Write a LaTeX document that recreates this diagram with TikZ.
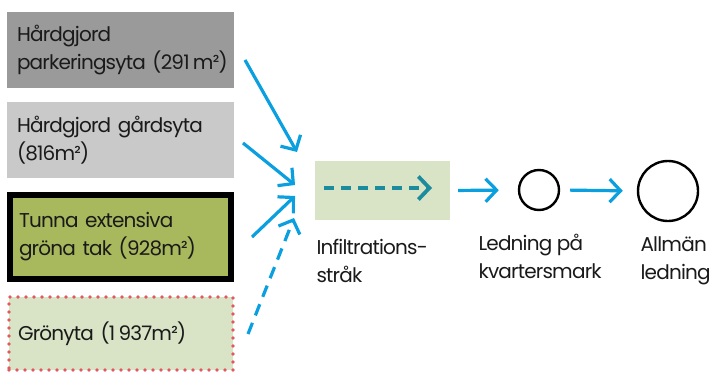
\documentclass[tikz,border=0pt]{standalone}
\usepackage{fontspec}
\setmainfont{Poppins}[LetterSpace=-4.0]
\usetikzlibrary{arrows.meta, positioning}
\definecolor{flowblue}{HTML}{0AA0E0}
\definecolor{flowteal}{HTML}{1A8C9E}
\definecolor{parkgrey}{HTML}{9A9A9A}
\definecolor{yardgrey}{HTML}{C9C9C9}
\definecolor{roofgreen}{HTML}{A8B85C}
\definecolor{palegreen}{HTML}{D9E3C5}
\definecolor{dotred}{HTML}{E2585E}
\definecolor{inktext}{HTML}{1A1A1A}
\tikzset{
x=1pt, y=-1pt, % one unit is one pixel of the sketch
every node/.style={text=inktext, font=\fontsize{20}{28}\selectfont},
srcbox/.style={rectangle, minimum width=227, minimum height=76, inner xsep=10pt, text width=207pt, align=left}, % the four surfaces on the left
flow/.style={flowblue, line width=3.2pt, -{Straight Barb[length=11pt, width=23pt]}}, % blue runoff arrows
well/.style={circle, draw=black, line width=2.4pt, inner sep=0pt}, % pipes
lbl/.style={anchor=north west, align=left},
}

\begin{document}
\begin{tikzpicture}
\useasboundingbox (0,0) rectangle (711,372);

% surfaces
\node[srcbox, fill=parkgrey] at (120.5,50) (park) {Hårdgjord\\\mbox{parkeringsyta (291\,m²)}};
\node[srcbox, fill=yardgrey] at (120.5,140) (yard) {Hårdgjord gårdsyta\\(816m²)};
\node[srcbox, fill=roofgreen, draw=black, line width=6pt, minimum width=221, minimum height=84, text width=203pt, inner xsep=6pt] at (120.5,237) (roof) {Tunna extensiva\\gröna tak (928m²)};
\node[srcbox, fill=palegreen, draw=dotred, line width=3.8pt, line cap=round, dash pattern=on 0pt off 8pt, minimum width=224, minimum height=73, text width=206pt, inner xsep=9pt] at (121,333.5) (lawn) {Grönyta (1\,937m²)};

% infiltration strip and pipes
\node[rectangle, fill=palegreen, minimum width=135, minimum height=59] at (382.5,190.5) (strip) {};
\node[well, minimum size=40] at (539,190) (pipe) {};
\node[well, minimum size=60] at (668,191) (main) {};

\node[lbl] at (313,236) (striplbl) {Infiltrations-\\stråk};
\node[lbl] at (475,231) (pipelbl) {Ledning på\\kvartersmark};
\node[lbl] at (637,233) (mainlbl) {Allmän\\ledning};

% free ends of the inflow arrows
\coordinate (p1) at (245,60);
\coordinate (p2) at (243,143);
\coordinate (p3) at (252,237);
\coordinate (p4) at (248,334);
\coordinate (q1) at (297,152);
\coordinate (q2) at (295,185);
\coordinate (q3) at (295,196);
\coordinate (q4) at (294,218);
\coordinate (s1) at (324,188);
\coordinate (s2) at (432,188);

\draw[flow] (p1) -- (q1);
\draw[flow] (p2) -- (q2);
\draw[flow] (p3) -- (q3);
\draw[flow, dash pattern=on 12pt off 8pt] (p4) -- (q4);
\draw[flow, flowteal, line width=3.8pt, dash pattern=on 10pt off 7pt] (s1) -- (s2);

\draw[flow, shorten <=8pt, shorten >=19pt] (strip.east) -- (pipe.west);
\draw[flow, shorten <=10pt, shorten >=14pt] (pipe.east) -- (main.west);

\end{tikzpicture}
\end{document}
